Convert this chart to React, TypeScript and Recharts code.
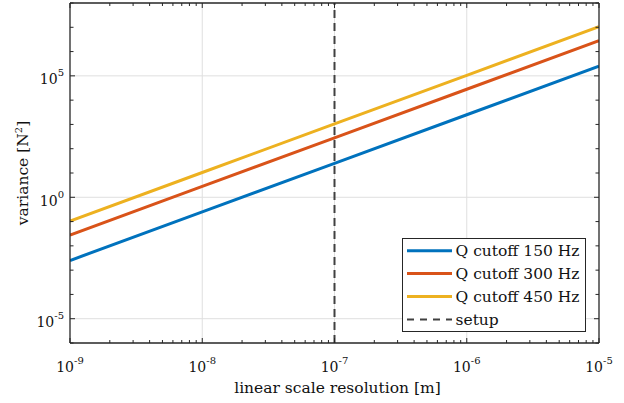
import React from "react"
import { LineChart, Line, XAxis, YAxis, ReferenceLine, Legend } from "recharts"

// resolution of the linear scale [m]
const resolution = [1e-9, 1e-8, 1e-7, 1e-6, 1e-5]
// variance [N^2] per Q cutoff
const var150 = [2.5e-3, 0.25, 25, 2.5e3, 2.5e5]
const var300 = [2.8e-2, 2.8, 280, 2.8e4, 2.8e6]
const var450 = [0.105, 10.5, 1050, 1.05e5, 1.05e7]

const setupResolution = 1e-7

const seriesNames = ["Q cutoff 150 Hz", "Q cutoff 300 Hz", "Q cutoff 450 Hz"]
const seriesColors = ["#0072BD", "#D95319", "#EDB120"]

// ticks
const xDecades = [1e-9, 1e-8, 1e-7, 1e-6, 1e-5]
const xMinorFactors = [2, 3, 4, 5, 6, 7, 8, 9]
const xGrid = [1e-8, 1e-7, 1e-6]
const yDecadeExps = [-6, -5, -4, -3, -2, -1, 0, 1, 2, 3, 4, 5, 6, 7, 8]
const yLabelExps = [-5, 0, 5]

const xTicks = [
  ...xDecades,
  ...xDecades.slice(0, -1).flatMap((d) => xMinorFactors.map((f) => f * d)),
].sort((a, b) => a - b)
const yTicks = yDecadeExps.map((e) => Number(`1e${e}`))
const yGrid = yLabelExps.map((e) => Number(`1e${e}`))

const data = resolution.map((r, i) => ({
  r,
  q150: var150[i],
  q300: var300[i],
  q450: var450[i],
}))

const FONT = "DejaVu Serif"
const AXIS = "#262626"
const TEXT = "#111"

const expOf = (v: number) => Math.round(Math.log10(v))
const isDecade = (v: number) => Math.abs(Math.log10(v) - expOf(v)) < 1e-6

function Pow10({ x, y, exp, anchor }: any) {
  return (
    <text x={x} y={y} textAnchor={anchor} fontFamily={FONT} fontSize={14} fill={TEXT}>
      10
      <tspan dy={-8} fontSize={10}>
        {exp}
      </tspan>
    </text>
  )
}

function BottomTick({ x, y, payload }: any) {
  const major = isDecade(payload.value)
  return (
    <g>
      <line x1={x} x2={x} y1={y} y2={y - (major ? 5 : 3)} stroke={AXIS} />
      {major && <Pow10 x={x} y={y + 29} exp={expOf(payload.value)} anchor="middle" />}
    </g>
  )
}

function TopTick({ x, y, payload }: any) {
  const major = isDecade(payload.value)
  return <line x1={x} x2={x} y1={y} y2={y + (major ? 5 : 3)} stroke={AXIS} />
}

function LeftTick({ x, y, payload }: any) {
  const e = expOf(payload.value)
  const major = yLabelExps.includes(e)
  return (
    <g>
      <line x1={x} x2={x + (major ? 5 : 3.5)} y1={y} y2={y} stroke={AXIS} />
      {major && <Pow10 x={x - 6} y={y + 8.5} exp={e} anchor="end" />}
    </g>
  )
}

function RightTick({ x, y, payload }: any) {
  const major = yLabelExps.includes(expOf(payload.value))
  return <line x1={x} x2={x - (major ? 5 : 3.5)} y1={y} y2={y} stroke={AXIS} />
}

function XTitle({ viewBox }: any) {
  return (
    <text
      x={viewBox.x + viewBox.width / 2 + 3}
      y={viewBox.y + 50}
      textAnchor="middle"
      fontFamily={FONT}
      fontSize={15.5}
      fill={TEXT}
    >
      linear scale resolution [m]
    </text>
  )
}

function YTitle({ viewBox }: any) {
  const cx = viewBox.x + 28
  const cy = viewBox.y + viewBox.height / 2
  return (
    <text
      x={cx}
      y={cy}
      transform={`rotate(-90, ${cx}, ${cy})`}
      textAnchor="middle"
      fontFamily={FONT}
      fontSize={15.5}
      fill={TEXT}
    >
      variance [N
      <tspan dy={-6} fontSize={10}>
        2
      </tspan>
      <tspan dy={6}>]</tspan>
    </text>
  )
}

function LegendBox() {
  const rows = [
    ...seriesNames.map((n, i) => ({ name: n, color: seriesColors[i], dash: undefined as string | undefined, w: 3 })),
    { name: "setup", color: "#404040", dash: "7 6", w: 2 },
  ]
  return (
    <svg width={184} height={94} style={{ display: "block" }}>
      <rect x={0.5} y={0.5} width={183} height={93} fill="#fff" stroke={AXIS} />
      {rows.map((r, i) => {
        const cy = 12.7 + i * 22.9
        return (
          <g key={r.name}>
            <line x1={5} x2={50} y1={cy} y2={cy} stroke={r.color} strokeWidth={r.w} strokeDasharray={r.dash} />
            <text x={53.5} y={cy + 5.5} fontFamily={FONT} fontSize={15.5} fill={TEXT}>
              {r.name}
            </text>
          </g>
        )
      })}
    </svg>
  )
}

export default function App() {
  return (
    <div style={{ position: "absolute", left: 0, top: 0, background: "#fff" }}>
      <LineChart width={624} height={403} data={data} margin={{ top: 0, right: 0, bottom: 0, left: 0 }}>
        <XAxis
          dataKey="r"
          type="number"
          scale="log"
          domain={[1e-9, 1e-5]}
          allowDataOverflow
          ticks={xTicks}
          interval={0}
          tickSize={0}
          tickMargin={0}
          tick={<BottomTick />}
          tickLine={false}
          axisLine={{ stroke: AXIS, strokeWidth: 1.3 }}
          height={60}
          label={XTitle}
        />
        <XAxis
          xAxisId="top"
          orientation="top"
          dataKey="r"
          type="number"
          scale="log"
          domain={[1e-9, 1e-5]}
          allowDataOverflow
          ticks={xTicks}
          interval={0}
          tickSize={0}
          tickMargin={0}
          tick={<TopTick />}
          tickLine={false}
          axisLine={{ stroke: AXIS, strokeWidth: 1.3 }}
          height={3}
        />
        <YAxis
          type="number"
          scale="log"
          domain={[1e-6, 1e8]}
          allowDataOverflow
          ticks={yTicks}
          interval={0}
          tickSize={0}
          tickMargin={0}
          tick={<LeftTick />}
          tickLine={false}
          axisLine={{ stroke: AXIS, strokeWidth: 1.3 }}
          width={70}
          label={YTitle}
        />
        <YAxis
          yAxisId="right"
          orientation="right"
          type="number"
          scale="log"
          domain={[1e-6, 1e8]}
          allowDataOverflow
          ticks={yTicks}
          interval={0}
          tickSize={0}
          tickMargin={0}
          tick={<RightTick />}
          tickLine={false}
          axisLine={{ stroke: AXIS, strokeWidth: 1.3 }}
          width={25}
        />
        {xGrid.map((v) => (
          <ReferenceLine key={`gx${v}`} x={v} stroke="#dfdfdf" strokeWidth={1} />
        ))}
        {yGrid.map((v) => (
          <ReferenceLine key={`gy${v}`} y={v} stroke="#dfdfdf" strokeWidth={1} />
        ))}
        <Line dataKey="q150" name={seriesNames[0]} stroke={seriesColors[0]} strokeWidth={3} dot={false} type="linear" isAnimationActive={false} />
        <Line dataKey="q300" name={seriesNames[1]} stroke={seriesColors[1]} strokeWidth={3} dot={false} type="linear" isAnimationActive={false} />
        <Line dataKey="q450" name={seriesNames[2]} stroke={seriesColors[2]} strokeWidth={3} dot={false} type="linear" isAnimationActive={false} />
        <ReferenceLine x={setupResolution} stroke="#404040" strokeWidth={2} strokeDasharray="8 5" />
        <Legend
          layout="vertical"
          align="center"
          verticalAlign="middle"
          content={() => <LegendBox />}
          wrapperStyle={{ left: 402, top: 238, width: 184, height: 94 }}
        />
      </LineChart>
    </div>
  )
}
